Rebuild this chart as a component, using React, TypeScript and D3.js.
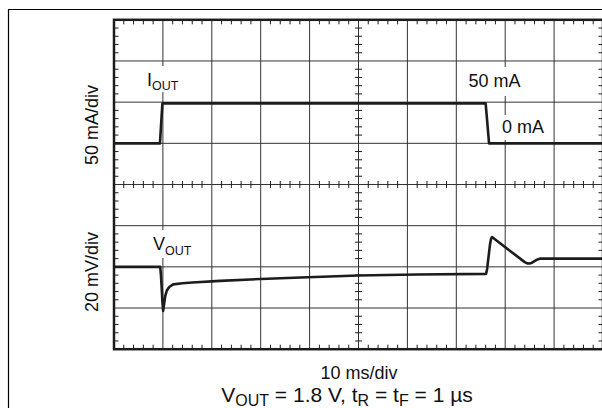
import React from 'react';
import * as d3 from 'd3';

// IOUT trace (ms, mA)
const iOutTime = [0, 9.4, 9.6, 9.9, 76.0, 76.7, 100];
const iOutMA = [0, 0, 20, 48.5, 48.5, 0, 0];

// VOUT trace (ms, mV relative to the gridline)
const vOutTime = [0, 9.45, 9.6, 9.75, 9.9, 10.05, 10.25, 10.5, 10.8, 11.3, 12.1, 14, 16, 21.7, 30, 38.2, 49.9, 62, 76.1, 76.3, 76.5, 76.7, 76.9, 77.1, 77.3, 84.0, 84.5, 84.9, 85.4, 86.0, 86.6, 87.2, 100];
const vOutMV = [0, 0, -4, -10, -17, -21.4, -18, -14, -11.5, -9.8, -8.5, -8.0, -7.6, -6.8, -5.9, -5.2, -4.2, -3.7, -3.4, -1, 3, 7, 11, 13.5, 14.5, 2.3, 1.7, 1.6, 1.9, 2.8, 3.6, 4.0, 4.0];

const W = 602;
const H = 408;
const left = 114;
const right = 603;
const top = 19.8;
const bottom = 349.2;
const FONT = '"Liberation Sans", Arial, Helvetica, sans-serif';
const GRID = '#333';
const INK = '#1c1c1c';

export default function App() {
  const x = d3.scaleLinear().domain([0, 100]).range([left, right]);
  const yI = d3.scaleLinear().domain([-250, 150]).range([bottom, top]);
  const yV = d3.scaleLinear().domain([-40, 120]).range([bottom, top]);

  const xMajor = d3.range(10, 100, 10);
  const yMajor = d3.range(-200, 150, 50);
  const xMinor = d3.range(0, 101, 2).filter(t => t % 10 !== 0);
  const yMinor = d3.range(-250, 151, 10).filter(v => v % 50 !== 0);
  const cx = x(50);
  const cy = yI(-50);

  const iLine = d3.line<number>()
    .x((_d, i) => x(iOutTime[i]))
    .y(d => yI(d));
  const vLine = d3.line<number>()
    .x((_d, i) => x(vOutTime[i]))
    .y(d => yV(d));

  const tick = 4.5;
  const ctick = 3.5;

  return (
    <svg width={W} height={H} style={{ position: 'absolute', left: 0, top: 0, background: '#fff' }}>
      {/* outer frame */}
      <path d={`M8.5,${H} V9.5 H${W}`} fill="none" stroke="#000" strokeWidth={1.2} />

      {/* grid */}
      {xMajor.map(t => (
        <line key={'gx' + t} x1={x(t)} x2={x(t)} y1={top} y2={bottom} stroke={GRID} strokeWidth={1} />
      ))}
      {yMajor.map(v => (
        <line key={'gy' + v} x1={left} x2={right} y1={yI(v)} y2={yI(v)} stroke={GRID} strokeWidth={1} />
      ))}

      {/* minor ticks on borders and center cross */}
      {xMinor.map(t => (
        <g key={'mx' + t} stroke={INK} strokeWidth={1}>
          <line x1={x(t)} x2={x(t)} y1={top} y2={top + tick} />
          <line x1={x(t)} x2={x(t)} y1={bottom} y2={bottom - tick} />
          <line x1={x(t)} x2={x(t)} y1={cy - ctick} y2={cy + ctick} />
        </g>
      ))}
      {yMinor.map(v => (
        <g key={'my' + v} stroke={INK} strokeWidth={1}>
          <line x1={left} x2={left + tick} y1={yI(v)} y2={yI(v)} />
          <line x1={right} x2={right - tick} y1={yI(v)} y2={yI(v)} />
          <line x1={cx - ctick} x2={cx + ctick} y1={yI(v)} y2={yI(v)} />
        </g>
      ))}

      {/* border */}
      <rect x={left} y={top} width={right - left} height={bottom - top} fill="none" stroke={INK} strokeWidth={2.5} />

      {/* labels with white backgrounds */}
      <g fontFamily={FONT} fill="#111">
        <rect x={145} y={66} width={38} height={26} fill="#fff" />
        <text x={147} y={85.5} fontSize={18}>I<tspan fontSize={12.5} dy={4}>OUT</tspan></text>

        <rect x={151} y={230} width={45} height={28} fill="#fff" />
        <text x={153} y={250} fontSize={18}>V<tspan fontSize={12.5} dy={5}>OUT</tspan></text>

        <rect x={466} y={67} width={58} height={29} fill="#fff" />
        <text x={468.5} y={87.3} fontSize={18}>50 mA</text>

        <rect x={499} y={115} width={48} height={25} fill="#fff" />
        <text x={502} y={133.3} fontSize={18}>0 mA</text>

        <text transform="translate(98,125) rotate(-90)" textAnchor="middle" fontSize={18}>50 mA/div</text>
        <text transform="translate(98,272) rotate(-90)" textAnchor="middle" fontSize={18}>20 mV/div</text>

        <text x={359} y={379} textAnchor="middle" fontSize={18}>10 ms/div</text>
        <text x={347} y={401.5} textAnchor="middle" fontSize={21}>
          V<tspan fontSize={16} dy={4}>OUT</tspan>
          <tspan dy={-4}>{' = 1.8 V, t'}</tspan>
          <tspan fontSize={16} dy={4}>R</tspan>
          <tspan dy={-4}>{' = t'}</tspan>
          <tspan fontSize={16} dy={4}>F</tspan>
          <tspan dy={-4}>{' = 1 µs'}</tspan>
        </text>
      </g>

      {/* traces */}
      <path d={iLine(iOutMA) || ''} fill="none" stroke={INK} strokeWidth={2.6} strokeLinejoin="round" />
      <path d={vLine(vOutMV) || ''} fill="none" stroke={INK} strokeWidth={2.6} strokeLinejoin="round" />
    </svg>
  );
}
